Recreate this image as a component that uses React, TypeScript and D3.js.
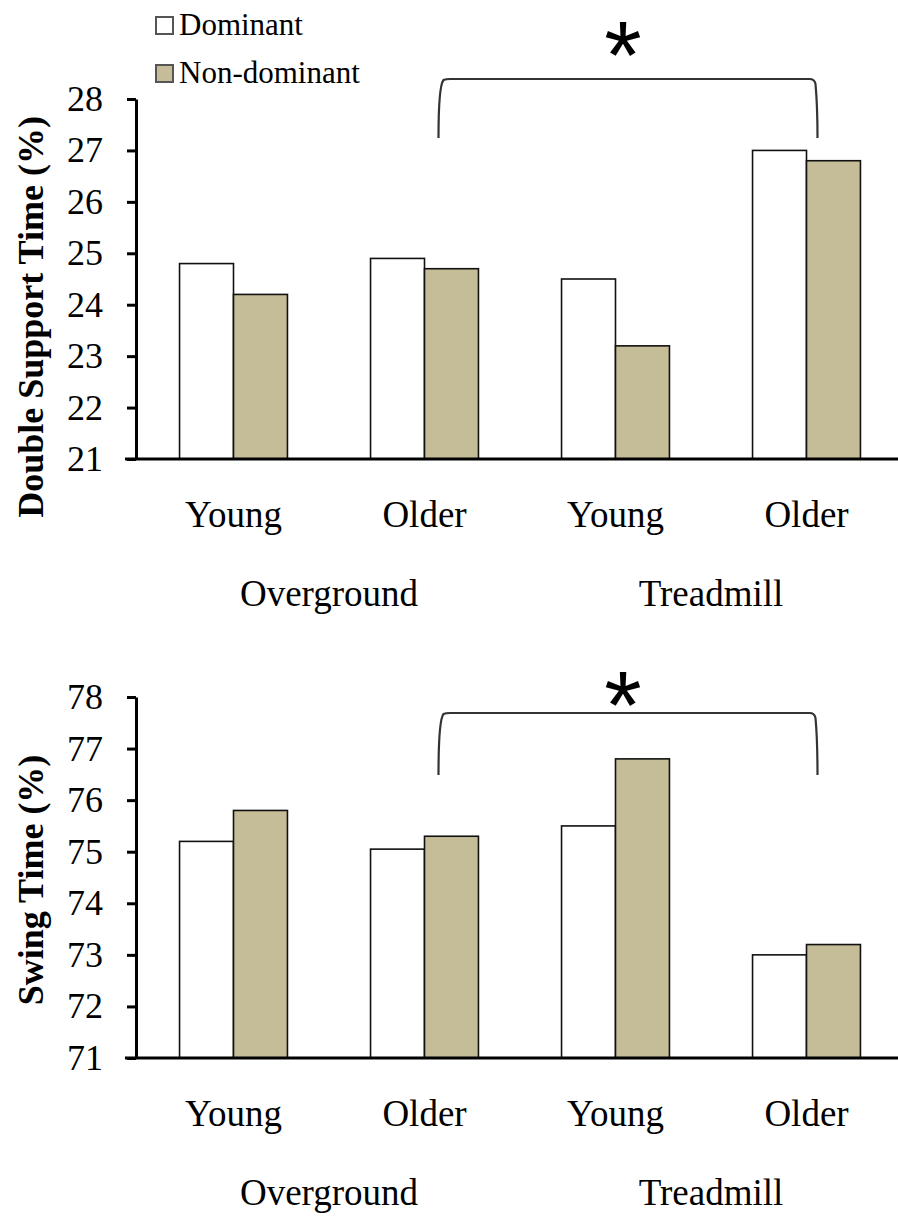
import React, { useEffect, useRef } from "react";
import * as d3 from "d3";

const groups = ["og-young", "og-older", "tm-young", "tm-older"];
const groupLabels = ["Young", "Older", "Young", "Older"];
const conditions = ["Overground", "Treadmill"];
const series = ["Dominant", "Non-dominant"];

const doubleSupportDominant = [24.8, 24.9, 24.5, 27.0];
const doubleSupportNonDominant = [24.2, 24.7, 23.2, 26.8];
const doubleSupportTicks = [21, 22, 23, 24, 25, 26, 27, 28];

const swingDominant = [75.2, 75.05, 75.5, 73.0];
const swingNonDominant = [75.8, 75.3, 76.8, 73.2];
const swingTicks = [71, 72, 73, 74, 75, 76, 77, 78];

const colors = ["#ffffff", "#c4bd97"];
const serif = "Liberation Serif, Times New Roman, serif";

const App = () => {
  const svgRef = useRef<SVGSVGElement>(null);

  useEffect(() => {
    const svg = d3.select(svgRef.current);
    svg.selectAll("*").remove();

    const x0 = d3.scaleBand().domain(groups).range([138, 902]).paddingInner(0.435).paddingOuter(0.2175);
    const x1 = d3.scaleBand().domain(series).range([0, x0.bandwidth()]);

    const panels = [
      {
        top: 99, bottom: 459, ticks: doubleSupportTicks, title: "Double Support Time (%)",
        titleY: 317, values: [doubleSupportDominant, doubleSupportNonDominant],
        bracketTop: 79, bracketFoot: 138, starY: 88,
      },
      {
        top: 697, bottom: 1058, ticks: swingTicks, title: "Swing Time (%)",
        titleY: 880, values: [swingDominant, swingNonDominant],
        bracketTop: 713, bracketFoot: 775, starY: 738,
      },
    ];

    panels.forEach((p) => {
      const g = svg.append("g");
      const y = d3.scaleLinear()
        .domain([p.ticks[0], p.ticks[p.ticks.length - 1]])
        .range([p.bottom, p.top]);

      // bars
      groups.forEach((grp, gi) => {
        series.forEach((s, si) => {
          const v = p.values[si][gi];
          g.append("rect")
            .attr("x", x0(grp)! + x1(s)!)
            .attr("y", y(v))
            .attr("width", x1.bandwidth())
            .attr("height", y(p.ticks[0]) - y(v))
            .attr("fill", colors[si])
            .attr("stroke", "#111")
            .attr("stroke-width", 1.6);
        });
      });

      // y axis
      const axis = g.append("g")
        .attr("transform", "translate(136,0)")
        .call(d3.axisLeft(y).tickValues(p.ticks).tickSize(9).tickSizeOuter(0).tickPadding(24).tickFormat(d3.format("d")));
      axis.attr("font-family", serif).attr("font-size", 36);
      axis.select(".domain").attr("stroke", "#000").attr("stroke-width", 3);
      axis.selectAll(".tick line").attr("stroke", "#000").attr("stroke-width", 3);
      axis.selectAll(".tick text")
        .style("font-family", serif)
        .style("font-size", "36px")
        .attr("fill", "#000");

      // x axis line
      g.append("line")
        .attr("x1", 125).attr("x2", 898)
        .attr("y1", y(p.ticks[0])).attr("y2", y(p.ticks[0]))
        .attr("stroke", "#000").attr("stroke-width", 3);

      // category labels
      groups.forEach((grp, gi) => {
        g.append("text")
          .attr("x", x0(grp)! + x0.bandwidth() / 2)
          .attr("y", p.bottom + 68)
          .attr("text-anchor", "middle")
          .style("font-family", serif)
          .style("font-size", "37px")
          .text(groupLabels[gi]);
      });
      conditions.forEach((c, ci) => {
        const a = x0(groups[ci * 2])! + x0.bandwidth() / 2;
        const b = x0(groups[ci * 2 + 1])! + x0.bandwidth() / 2;
        g.append("text")
          .attr("x", (a + b) / 2)
          .attr("y", p.bottom + 147)
          .attr("text-anchor", "middle")
          .style("font-family", serif)
          .style("font-size", "37px")
          .text(c);
      });

      // title
      g.append("text")
        .attr("transform", `translate(43,${p.titleY}) rotate(-90)`)
        .attr("text-anchor", "middle")
        .style("font-family", serif)
        .style("font-weight", "bold")
        .style("font-size", "36px")
        .text(p.title);

      // significance bracket
      const lx = x0(groups[1])! + x0.bandwidth() / 2 + 14;
      const rx = x0(groups[3])! + x0.bandwidth() / 2 + 10;
      const t = p.bracketTop;
      const f = p.bracketFoot;
      g.append("path")
        .attr("d", `M${lx},${f} C${lx},${t + 30} ${lx + 1},${t + 6} ${lx + 5},${t + 1} Q${lx + 7},${t} ${lx + 12},${t} L${rx - 7},${t} Q${rx - 2},${t} ${rx - 1},${t + 5} C${rx},${t + 16} ${rx + 1},${t + 36} ${rx + 1},${f}`)
        .attr("fill", "none")
        .attr("stroke", "#333")
        .attr("stroke-width", 2.2);
      g.append("text")
        .attr("x", 623)
        .attr("y", p.starY)
        .attr("text-anchor", "middle")
        .style("font-family", "Liberation Sans, Arial, sans-serif")
        .style("font-size", "96px")
        .text("*");
    });

    // legend
    const legend = svg.append("g");
    series.forEach((s, i) => {
      legend.append("rect")
        .attr("x", 156).attr("y", 17 + i * 48)
        .attr("width", 17).attr("height", 17)
        .attr("fill", colors[i])
        .attr("stroke", "#555")
        .attr("stroke-width", 2);
      legend.append("text")
        .attr("x", 179).attr("y", 35 + i * 48)
        .style("font-family", serif)
        .style("font-size", "31px")
        .attr("fill", "#000")
        .text(s);
    });
  }, []);

  return (
    <svg
      ref={svgRef}
      width={898}
      height={1219}
      style={{ position: "absolute", left: 0, top: 0, background: "#fff" }}
    />
  );
};

export default App;
